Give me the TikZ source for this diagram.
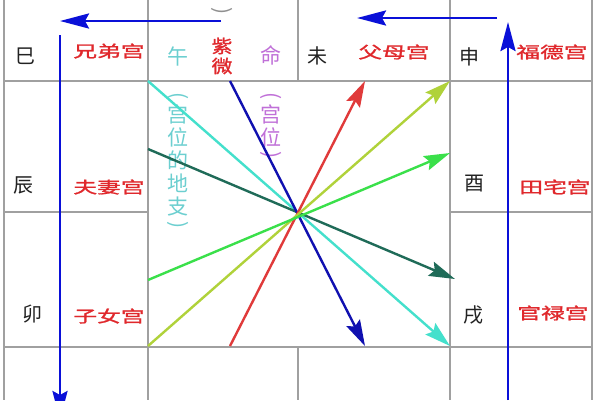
\documentclass[tikz,border=0pt]{standalone}
\usepackage{fontspec}
\newfontfamily\cjk{Noto Sans CJK SC}
\newfontfamily\cjkb[FakeBold=1.2]{Noto Sans CJK SC}
\usetikzlibrary{arrows.meta}
\definecolor{gridgray}{HTML}{A0A0A0}
\definecolor{cyanline}{HTML}{44E0CC}
\definecolor{dkgreen}{HTML}{1F6B58}
\definecolor{blueline}{HTML}{1010B0}
\definecolor{redline}{HTML}{E03A3A}
\definecolor{ygline}{HTML}{B0D23A}
\definecolor{grline}{HTML}{3AE04A}
\definecolor{outblue}{HTML}{0A10D8}
\definecolor{gongred}{HTML}{E0282C}
\definecolor{cyantext}{HTML}{6CCFD0}
\definecolor{purpletext}{HTML}{C070D8}
\definecolor{brblack}{HTML}{222222}
\definecolor{parengray}{HTML}{909090}
\begin{document}
\begin{tikzpicture}[x=1pt,y=-1pt,
  gridline/.style={draw=gridgray,line width=1.5pt},
  tipline/.style={line width=2.4pt,-{Stealth[length=26pt,width=15pt,inset=4pt]}},
  outarrow/.style={draw=outblue,line width=2.8pt,-{Stealth[length=29pt,width=15pt,inset=4pt]}},
  branch/.style={font=\cjk\fontsize{20}{20}\selectfont,text=brblack,inner sep=0pt},
  gong/.style={font=\cjkb\fontsize{19}{19}\selectfont,text=gongred,inner sep=0pt,xscale=1.25,yscale=0.85},
  vchar/.style={font=\cjk\fontsize{21}{21}\selectfont,inner sep=0pt},
  paren/.style={font=\cjk\fontsize{21}{21}\selectfont,inner sep=0pt},
  zichar/.style={font=\cjkb\fontsize{18}{18}\selectfont,text=gongred,inner sep=0pt,xscale=1.15}
]
\useasboundingbox (0,0) rectangle (600,400);
\clip (0,0) rectangle (600,400);
\fill[white] (0,0) rectangle (600,400);
% grid
\draw[gridline] (4,0) -- (4,400);
\draw[gridline] (148,0) -- (148,400);
\draw[gridline] (298,0) -- (298,81);
\draw[gridline] (298,347) -- (298,400);
\draw[gridline] (450,0) -- (450,400);
\draw[gridline] (592,0) -- (592,400);
\draw[gridline] (4,81) -- (592,81);
\draw[gridline] (4,347) -- (592,347);
\draw[gridline] (4,212) -- (148,212);
\draw[gridline] (450,212) -- (592,212);
% coordinates
\coordinate (cyS) at (148,81);  \coordinate (cyE) at (450,346);
\coordinate (dgS) at (148,149); \coordinate (dgE) at (455,279);
\coordinate (blS) at (230,81);  \coordinate (blE) at (365,346);
\coordinate (rdS) at (230,346); \coordinate (rdE) at (365,81);
\coordinate (ygS) at (148,346); \coordinate (ygE) at (450,81);
\coordinate (grS) at (148,280); \coordinate (grE) at (450,153);
\coordinate (a1S) at (221,21);  \coordinate (a1E) at (60,21);
\coordinate (a2S) at (60,35);   \coordinate (a2E) at (60,420);
\coordinate (a3S) at (497,18);  \coordinate (a3E) at (357,18);
\coordinate (a4S) at (508,400); \coordinate (a4E) at (508,22);
% texts
\node[branch] (si) at (25,56) {巳};
\node[gong] (xiongdi) at (109,51) {兄弟宫};
\node[vchar,text=cyantext] (wu) at (178,56) {午};
\node[zichar] (zi) at (222,46) {紫};
\node[zichar] (wei) at (222,66) {微};
\node[vchar,text=purpletext] (ming) at (271,55) {命};
\node[branch] (weiz) at (317,56) {未};
\node[gong] (fumu) at (394,52) {父母宫};
\node[branch] (shen) at (469,57) {申};
\node[gong] (fude) at (552,52) {福德宫};
\node[branch] (chen) at (23,185) {辰};
\node[gong] (fuqi) at (109,187) {夫妻宫};
\node[branch] (you) at (474,184) {酉};
\node[gong] (tianzhai) at (555,187) {田宅宫};
\node[branch] (mao) at (32,314) {卯};
\node[gong] (zinv) at (109,316) {子女宫};
\node[branch] (xu) at (473,315) {戌};
\node[gong] (guanlu) at (553,313) {官禄宫};
\node[paren,text=parengray,rotate=-90] (topparen) at (222,11) {)};
% vertical cyan text
\node[paren,text=cyantext,rotate=-90] (c0) at (178,96) {(};
\node[vchar,text=cyantext] (c1) at (178,114) {宫};
\node[vchar,text=cyantext] (c2) at (178,137) {位};
\node[vchar,text=cyantext] (c3) at (178,160) {的};
\node[vchar,text=cyantext] (c4) at (178,183) {地};
\node[vchar,text=cyantext] (c5) at (178,207) {支};
\node[paren,text=cyantext,rotate=-90] (c6) at (178,225) {)};
% vertical purple text
\node[paren,text=purpletext,rotate=-90] (p0) at (271,96) {(};
\node[vchar,text=purpletext] (p1) at (271,114) {宫};
\node[vchar,text=purpletext] (p2) at (271,137) {位};
\node[paren,text=purpletext,rotate=-90] (p3) at (271,155) {)};
% center lines
\draw[tipline,draw=cyanline] (cyS) -- (cyE);
\draw[tipline,draw=dkgreen] (dgS) -- (dgE);
\draw[tipline,draw=blueline] (blS) -- (blE);
\draw[tipline,draw=redline] (rdS) -- (rdE);
\draw[tipline,draw=ygline] (ygS) -- (ygE);
\draw[tipline,draw=grline] (grS) -- (grE);
% outer arrows
\draw[outarrow] (a1S) -- (a1E);
\draw[outarrow] (a2S) -- (a2E);
\draw[outarrow] (a3S) -- (a3E);
\draw[outarrow] (a4S) -- (a4E);
\end{tikzpicture}
\end{document}
